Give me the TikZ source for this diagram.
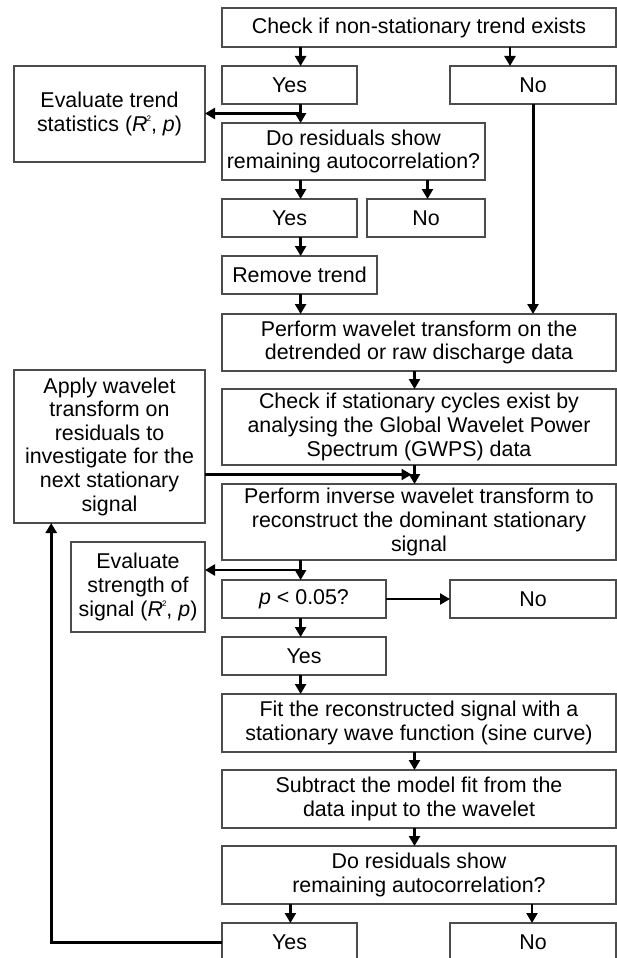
\documentclass[tikz,border=0pt]{standalone}
\usepackage{fontspec}
\setmainfont{Liberation Sans}
\usetikzlibrary{arrows.meta, calc}
% R squared with a small raised 2
\newcommand{\rsq}{\textit{R}\kern-1pt\raisebox{9.5pt}{\fontsize{8}{8}\selectfont 2}}

\begin{document}
\begin{tikzpicture}[
    x=1pt, y=-1pt,
    every node/.style={draw=black!70, line width=1.1pt, inner sep=0pt, outer sep=0pt,
        anchor=north west, align=center, font=\fontsize{21.4}{23.6}\selectfont},
    >={Triangle[length=10pt, width=11pt]},
    arrow/.style={->, line width=2.4pt},
    bigarrow/.style={->, line width=3pt},
    sz/.style 2 args={minimum width=#1pt, minimum height=#2pt},
]
\useasboundingbox (0,0) rectangle (617,958);

% trunk lines
\coordinate (cA) at (300.6,0);
\coordinate (cB) at (414.5,0);
\coordinate (cC) at (532,0);
\coordinate (cD) at (510,0);
\coordinate (cE) at (427.5,0);
\coordinate (cF) at (290.4,0);
\coordinate (cG) at (51.2,0);

% trend
\node[sz={394}{39}] (chk) at (222,8) {Check if non-stationary trend exists};
\node[sz={135}{38}] (yes1) at (222,66) {Yes};
\node[sz={166}{38}] (no1) at (450,66) {No};
\node[sz={191}{96}] (evtrend) at (14,66) {Evaluate trend\\statistics (\rsq, \textit{p})};
\node[sz={263}{57}] (resid1) at (222,123) {Do residuals show\\remaining autocorrelation?};
\node[sz={135}{38}] (yes2) at (222,199) {Yes};
\node[sz={118}{38}] (no2) at (367,199) {No};
\node[sz={155}{38}] (remtrend) at (222,256) {Remove trend};

% wavelet
\node[sz={394}{57}] (wavelet) at (222,314) {Perform wavelet transform on the\\detrended or raw discharge data};
\node[sz={191}{153}] (apply) at (14,370) {Apply wavelet\\transform on\\residuals to\\investigate for the\\next stationary\\signal};
\node[sz={394}{76}] (gwps) at (222,389) {Check if stationary cycles exist by\\analysing the Global Wavelet Power\\Spectrum (GWPS) data};
\node[sz={394}{76}] (inverse) at (222,484) {Perform inverse wavelet transform to\\reconstruct the dominant stationary\\signal};

% significance
\node[sz={134}{90}] (strength) at (71,542) {Evaluate\\strength of\\signal (\rsq, \textit{p})};
\node[sz={164}{38}] (pval) at (222,580) {\textit{p} < 0.05?};
\node[sz={166}{38}] (no3) at (450,580) {No};
\node[sz={164}{38}] (yes3) at (222,637) {Yes};

% model fit
\node[sz={394}{58}] (fit) at (222,694) {Fit the reconstructed signal with a\\stationary wave function (sine curve)};
\node[sz={394}{58}] (subtract) at (222,770) {Subtract the model fit from the\\data input to the wavelet};
\node[sz={394}{58}] (resid2) at (222,846) {Do residuals show\\remaining autocorrelation?};
\node[sz={135}{38}] (yes4) at (222,923) {Yes};
\node[sz={166}{38}] (no4) at (450,923) {No};

% downward arrows
\foreach \a/\b/\c in {chk/yes1/cA, chk/no1/cD, yes1/resid1/cA, resid1/yes2/cA,
    resid1/no2/cE, yes2/remtrend/cA, remtrend/wavelet/cA, wavelet/gwps/cB,
    gwps/inverse/cB, inverse/pval/cA, pval/yes3/cA, yes3/fit/cA,
    fit/subtract/cB, subtract/resid2/cB, resid2/yes4/cF, resid2/no4/cC}
  \draw[arrow] (\a.south -| \c) -- (\b.north -| \c);

% side branches
\coordinate (s1) at ($(yes1.south -| cA)!.5!(resid1.north -| cA)$);
\draw[arrow] (s1) -- (s1 -| evtrend.east);
\coordinate (s2) at ($(gwps.south -| cB)!.5!(inverse.north -| cB)$);
\draw[arrow, shorten >=3pt] (s2 -| apply.east) -- (s2);
\coordinate (s3) at ($(inverse.south -| cA)!.5!(pval.north -| cA)$);
\draw[arrow] (s3) -- (s3 -| strength.east);
\draw[arrow] (pval) -- (no3);

% no trend, and loop back
\draw[bigarrow] (no1.south) -- (no1.south |- wavelet.north);
\draw[bigarrow] (yes4.west) -- (yes4.west -| cG) -- (apply.south -| cG);

\end{tikzpicture}
\end{document}
